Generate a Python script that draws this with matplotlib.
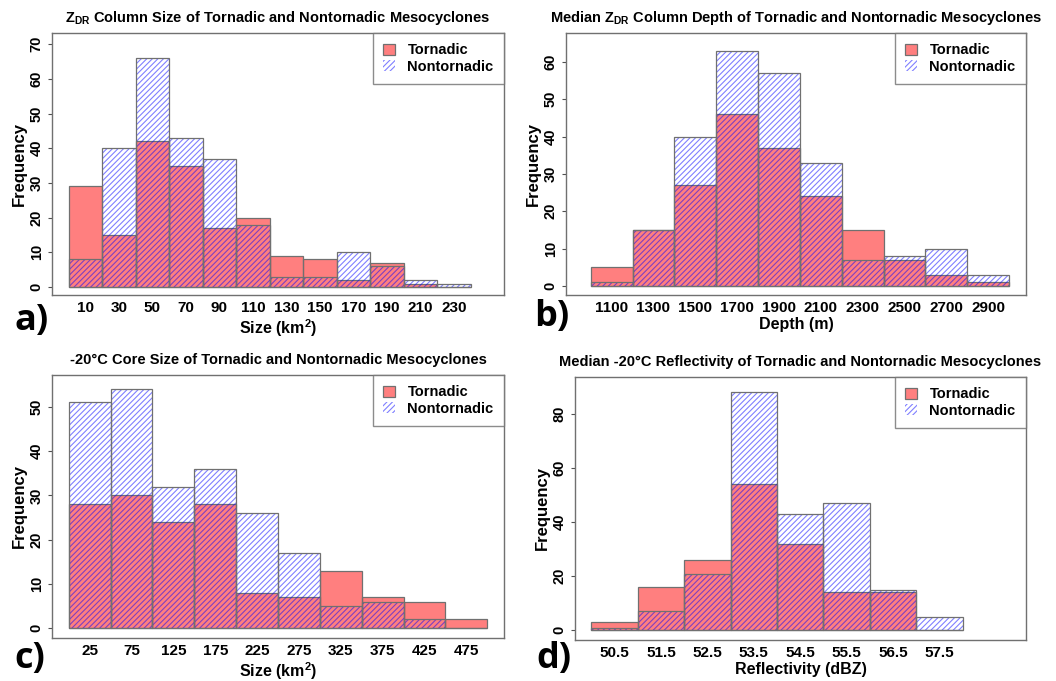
import matplotlib
matplotlib.use("Agg")
from matplotlib import pyplot as plt
import numpy as np

plt.rcParams['font.family'] = ['Liberation Sans', 'DejaVu Sans']
plt.rcParams['font.weight'] = 'bold'
plt.rcParams['mathtext.fontset'] = 'custom'
plt.rcParams['mathtext.rm'] = 'Liberation Sans:bold'
plt.rcParams['mathtext.bf'] = 'Liberation Sans:bold'
plt.rcParams['mathtext.it'] = 'Liberation Sans:bold'
plt.rcParams['hatch.linewidth'] = 0.8

# a) ZDR column size
a_centers = [10, 30, 50, 70, 90, 110, 130, 150, 170, 190, 210, 230]
a_tor = [29, 15, 42, 35, 17, 20, 9, 8, 2, 7, 1, 0]
a_non = [8, 40, 66, 43, 37, 18, 3, 3, 10, 6, 2, 1]

# b) median ZDR column depth
b_centers = [1100, 1300, 1500, 1700, 1900, 2100, 2300, 2500, 2700, 2900]
b_tor = [5, 15, 27, 46, 37, 24, 15, 7, 3, 1]
b_non = [1, 15, 40, 63, 57, 33, 7, 8, 10, 3]

# c) -20C core size
c_centers = [25, 75, 125, 175, 225, 275, 325, 375, 425, 475]
c_tor = [28, 30, 24, 28, 8, 7, 13, 7, 6, 2]
c_non = [51, 54, 32, 36, 26, 17, 5, 6, 2, 0]

# d) median -20C reflectivity
d_centers = [50.5, 51.5, 52.5, 53.5, 54.5, 55.5, 56.5, 57.5]
d_tor = [3, 16, 26, 54, 32, 14, 14, 0]
d_non = [1, 7, 21, 88, 43, 47, 15, 5]

red = (1, 0, 0, 0.5)
blue = (0, 0, 1, 0.5)
edge = '#707070'

fig = plt.figure(figsize=(10.56, 6.81), dpi=100)
W, H = 1056, 681


def add_ax(l, t, r, b):
    return fig.add_axes([l / W, 1 - b / H, (r - l) / W, (b - t) / H])


def panel(ax, centers, tor, non, width, xlim, ylim, yticks, title, xlabel, ticklabels):
    ax.bar(centers, tor, width=width, color=red, edgecolor=edge, linewidth=0.9,
           label='Tornadic')
    ax.bar(centers, non, width=width, facecolor='none', edgecolor=blue,
           linewidth=0, hatch='//////', label='Nontornadic')
    ax.bar(centers, non, width=width, facecolor='none', edgecolor=edge,
           linewidth=0.9)
    ax.set_xlim(*xlim)
    ax.set_ylim(*ylim)
    ax.set_xticks(centers)
    ax.set_xticklabels(ticklabels, fontsize=11, fontweight='bold')
    ax.tick_params(axis='x', length=0, pad=4)
    ax.set_yticks(yticks)
    ax.set_yticklabels([str(v) for v in yticks], rotation=90, va='center',
                       fontsize=10.5, fontweight='bold')
    ax.tick_params(axis='y', length=3, pad=3, color='#505050')
    for s in ax.spines.values():
        s.set_color('#707070')
        s.set_linewidth(1.0)
    ax.set_title(title, fontsize=10.5, fontweight='bold', pad=8)
    ax.set_xlabel(xlabel, fontsize=11.5, fontweight='bold', labelpad=2)
    ax.set_ylabel('Frequency', fontsize=12, fontweight='bold', labelpad=2)
    leg = ax.legend(loc='upper right', borderaxespad=0, fancybox=False,
                    prop={'size': 10.5, 'weight': 'bold'}, handlelength=0.8,
                    handleheight=0.8, borderpad=0.72, labelspacing=0.17,
                    handletextpad=0.85)
    leg.get_frame().set_edgecolor('#707070')
    leg.get_frame().set_linewidth(1.0)
    return ax


ax1 = add_ax(52, 33, 504, 295)
panel(ax1, a_centers, a_tor, a_non, 20, (-10, 260), (-2.3, 73.2),
      [0, 10, 20, 30, 40, 50, 60, 70],
      r'$\mathbf{Z_{DR}}$ Column Size of Tornadic and Nontornadic Mesocyclones',
      r'Size (km$^2$)', [str(v) for v in a_centers])

ax2 = add_ax(566, 33, 1026, 295)
panel(ax2, b_centers, b_tor, b_non, 200, (882, 3081), (-2.4, 67.7),
      [0, 10, 20, 30, 40, 50, 60],
      r'Median $\mathbf{Z_{DR}}$ Column Depth of Tornadic and Nontornadic Mesocyclones',
      'Depth (m)', [str(v) for v in b_centers])

ax3 = add_ax(52, 375, 504, 638)
panel(ax3, c_centers, c_tor, c_non, 50, (-20, 520), (-2.2, 57.2),
      [0, 10, 20, 30, 40, 50],
      '-20°C Core Size of Tornadic and Nontornadic Mesocyclones',
      r'Size (km$^2$)', [str(v) for v in c_centers])

ax4 = add_ax(575, 377, 1026, 640)
panel(ax4, d_centers, d_tor, d_non, 1, (49.65, 59.36), (-3.6, 93.7),
      [0, 20, 40, 60, 80],
      'Median -20°C Reflectivity of Tornadic and Nontornadic Mesocyclones',
      'Reflectivity (dBZ)', [str(v) for v in d_centers])

for lab, x, y in [('a)', 15, 321), ('b)', 534, 317), ('c)', 14, 659), ('d)', 536, 659)]:
    fig.text(x / W, 1 - y / H, lab, fontsize=26, fontweight='bold',
             family=['Open Sans', 'DejaVu Sans'], va='center', ha='left')

fig.savefig('out.png', dpi=100)
